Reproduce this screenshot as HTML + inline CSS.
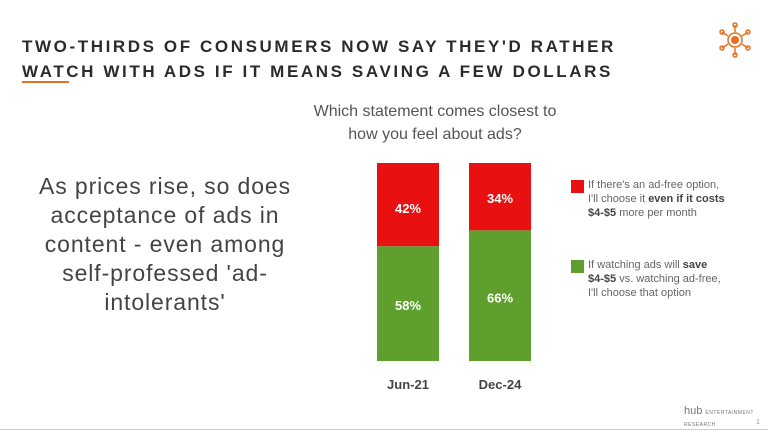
<!DOCTYPE html>
<html><head><meta charset="utf-8"><style>
body{margin:0;width:768px;height:432px;background:#fff;font-family:"Liberation Sans",sans-serif;position:relative;overflow:hidden}
.t{position:absolute;left:22px;font-weight:bold;font-size:17px;letter-spacing:2.6px;color:#2b2b2b;white-space:nowrap}
.abs{position:absolute}
.leg{position:absolute;left:588px;font-size:11px;line-height:14px;color:#666}
.leg b{color:#444}
.sw{position:absolute;width:13px;height:13px}
</style></head><body>
<div class="t" style="top:37px">TWO-THIRDS OF CONSUMERS NOW SAY THEY'D RATHER</div>
<div class="t" style="top:62px">WATCH WITH ADS IF IT MEANS SAVING A FEW DOLLARS</div>
<div class="abs" style="left:22px;top:81px;width:47px;height:2px;background:#e8701f"></div>
<svg class="abs" style="left:715px;top:20px" width="40" height="40" viewBox="0 0 40 40">
<g stroke="#e8701f" fill="none" stroke-width="1.5"><circle cx="20" cy="20" r="7"/><line x1="20" y1="5" x2="20" y2="12"/><line x1="20" y1="28" x2="20" y2="35"/><line x1="7" y1="12" x2="13" y2="16"/><line x1="33" y1="12" x2="27" y2="16"/><line x1="7" y1="28" x2="13" y2="24"/><line x1="33" y1="28" x2="27" y2="24"/>
<circle cx="20" cy="5" r="2"/><circle cx="20" cy="35" r="2"/><circle cx="7" cy="12" r="2"/><circle cx="33" cy="12" r="2"/><circle cx="7" cy="28" r="2"/><circle cx="33" cy="28" r="2"/></g>
<circle cx="20" cy="20" r="4" fill="#e8701f"/></svg>
<div class="abs" style="left:300px;top:100px;width:270px;text-align:center;font-size:16px;line-height:23px;color:#555">Which statement comes closest to<br>how you feel about ads?</div>
<div class="abs" style="left:10px;top:172px;width:310px;text-align:center;font-size:23px;letter-spacing:0.9px;line-height:29px;color:#444">As prices rise, so does<br>acceptance of ads in<br>content - even among<br>self-professed 'ad-<br>intolerants'</div>
<svg class="abs" id="chart" style="left:0;top:0" width="768" height="432"></svg>
<div class="sw" style="left:571px;top:180px;background:#e81010"></div>
<div class="leg" style="top:178px">If there's an ad-free option,<br>I'll choose it <b>even if it costs<br>$4-$5</b> more per month</div>
<div class="sw" style="left:571px;top:260px;background:#5e9f2e"></div>
<div class="leg" style="top:258px">If watching ads will <b>save<br>$4-$5</b> vs. watching ad-free,<br>I'll choose that option</div>
<div class="abs" style="left:684px;top:405px;font-size:11px;color:#777">hub <span style="font-size:5px;letter-spacing:0.5px">ENTERTAINMENT<br>RESEARCH</span></div>
<div class="abs" style="left:756px;top:419px;font-size:7px;color:#999">1</div>
<div class="abs" style="left:0;top:429px;width:768px;height:1px;background:#f0c8a0"></div>
<script>
const categories=["Jun-21","Dec-24"];
const adFree=[42,34];
const withAds=[58,66];
const svg=document.getElementById('chart');
const NS="http://www.w3.org/2000/svg";
const top0=163,bot=361,bw=62;
const xs=i=>377+i*92;
const y=v=>bot-(v/100)*(bot-top0);
function mk(t,a){const e=document.createElementNS(NS,t);for(const k in a)e.setAttribute(k,a[k]);svg.appendChild(e);return e;}
categories.forEach((c,i)=>{
 const x=xs(i);
 const g=mk('rect',{x:x,y:y(withAds[i]),width:bw,height:bot-y(withAds[i]),fill:'#5e9f2e'});
 
 
 const r=mk('rect',{x:x,y:y(withAds[i]+adFree[i]),width:bw,height:y(withAds[i])-y(withAds[i]+adFree[i]),fill:'#e81010'});
 
 
 const t1=mk('text',{x:x+bw/2,y:y(withAds[i]+adFree[i])+(i==0?50:40),'text-anchor':'middle','font-size':13,'font-weight':'bold',fill:'#fff','font-family':'Liberation Sans'});
 t1.textContent=adFree[i]+'%';
 
 
 const t2=mk('text',{x:x+bw/2,y:y(withAds[i])+(i==0?64:72),'text-anchor':'middle','font-size':13,'font-weight':'bold',fill:'#fff','font-family':'Liberation Sans'});
 t2.textContent=withAds[i]+'%';
 
 
 const t3=mk('text',{x:x+bw/2,y:389,'text-anchor':'middle','font-size':13,'font-weight':'bold',fill:'#444','font-family':'Liberation Sans'});
 t3.textContent=c;
 
 
});
</script>
</body></html>
